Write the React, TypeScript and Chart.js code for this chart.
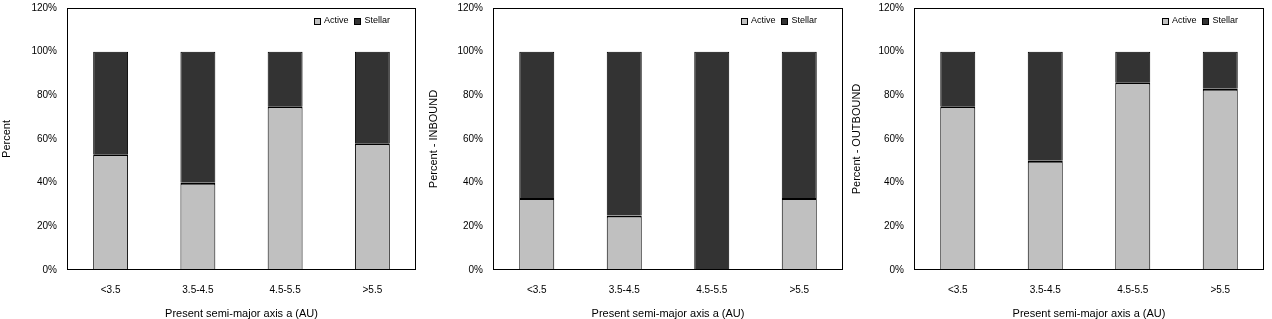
import React, { useEffect, useRef } from "react";
import { Chart, registerables } from "chart.js";

Chart.register(...registerables);

const categories = ["<3.5", "3.5-4.5", "4.5-5.5", ">5.5"];

const allActive = [53, 40, 75, 58];
const allStellar = [47, 60, 25, 42];

const inboundActive = [33, 25, 0, 33];
const inboundStellar = [67, 75, 100, 67];

const outboundActive = [75, 50, 86, 83];
const outboundStellar = [25, 50, 14, 17];

const yTickValues = [0, 20, 40, 60, 80, 100, 120];
const seriesNames = ["Active", "Stellar"];
const xTitle = "Present semi-major axis a (AU)";

const ACTIVE_COLOR = "#C0C0C0";
const STELLAR_COLOR = "#333333";
const FONT = "'Liberation Sans', Arial, sans-serif";

type PanelSpec = {
  left: number;
  width: number;
  yAxisWidth: number;
  padRight: number;
  titlePad: number;
  yTitle: string;
  active: number[];
  stellar: number[];
};

const panels: PanelSpec[] = [
  { left: 0, width: 420, yAxisWidth: 67, padRight: 4, titlePad: 0, yTitle: "Percent", active: allActive, stellar: allStellar },
  { left: 420, width: 430, yAxisWidth: 73, padRight: 7, titlePad: 7, yTitle: "Percent - INBOUND", active: inboundActive, stellar: inboundStellar },
  { left: 850, width: 422, yAxisWidth: 64, padRight: 8, titlePad: 0, yTitle: "Percent - OUTBOUND", active: outboundActive, stellar: outboundStellar },
];

const framePlugin = {
  id: "frameAndLegend",
  afterDatasetsDraw(chart: any) {
    const { ctx, chartArea } = chart;
    ctx.save();
    ctx.strokeStyle = "#000";
    ctx.lineWidth = 1;
    const l = Math.round(chartArea.left) + 0.5;
    const t = Math.round(chartArea.top) + 0.5;
    const r = Math.round(chartArea.right) - 0.5;
    const b = Math.round(chartArea.bottom) - 0.5;
    ctx.strokeRect(l, t, r - l, b - t);

    // legend inside the plot, top-right
    ctx.font = `9px ${FONT}`;
    ctx.textBaseline = "middle";
    ctx.textAlign = "left";
    const box = 6;
    const boxGap = 4;
    const itemGap = 6;
    const ds = chart.data.datasets;
    const widths = ds.map((d: any) => box + boxGap + ctx.measureText(d.label).width);
    const total = widths.reduce((a: number, w: number) => a + w, 0) + itemGap * (ds.length - 1);
    let x = chartArea.right - 26 - total;
    const cy = chartArea.top + 13;
    ds.forEach((d: any, i: number) => {
      const bx = Math.round(x) + 0.5;
      const by = Math.round(cy - box / 2) + 0.5;
      ctx.fillStyle = d.backgroundColor;
      ctx.fillRect(bx, by, box, box);
      ctx.strokeStyle = "#000";
      ctx.strokeRect(bx, by, box, box);
      ctx.fillStyle = "#000";
      ctx.fillText(d.label, x + box + boxGap, cy);
      x += widths[i] + itemGap;
    });
    ctx.restore();
  },
};

function Panel({ spec }: { spec: PanelSpec }) {
  const ref = useRef<HTMLCanvasElement | null>(null);
  useEffect(() => {
    if (!ref.current) return;
    const chart = new Chart(ref.current, {
      type: "bar",
      data: {
        labels: categories,
        datasets: [
          {
            label: seriesNames[0],
            data: spec.active,
            backgroundColor: ACTIVE_COLOR,
            borderColor: "#000",
            borderWidth: { top: 2, left: 1, right: 1, bottom: 0 },
            borderSkipped: "start",
            inflateAmount: 0,
            barPercentage: 0.4,
            categoryPercentage: 1,
          },
          {
            label: seriesNames[1],
            data: spec.stellar,
            backgroundColor: STELLAR_COLOR,
            borderColor: "#000",
            borderWidth: { top: 1, left: 1, right: 1, bottom: 0 },
            borderSkipped: "start",
            inflateAmount: 0,
            barPercentage: 0.4,
            categoryPercentage: 1,
          },
        ],
      },
      options: {
        responsive: false,
        maintainAspectRatio: false,
        animation: false,
        devicePixelRatio: 1,
        layout: { padding: { left: 0, right: spec.padRight, top: 8, bottom: 0 } },
        plugins: { legend: { display: false }, tooltip: { enabled: false } },
        scales: {
          x: {
            stacked: true,
            grid: { display: false, drawTicks: false },
            border: { display: false },
            ticks: { color: "#000", font: { family: FONT, size: 10 }, padding: 14, maxRotation: 0 },
            title: { display: true, text: xTitle, color: "#000", font: { family: FONT, size: 11, lineHeight: 1 }, padding: { top: 0, bottom: 0 } },
            afterFit: (axis: any) => {
              axis.height = 49;
            },
          },
          y: {
            stacked: true,
            min: 0,
            max: 120,
            grid: {
              display: true,
              drawOnChartArea: false,
              drawTicks: true,
              tickLength: 10,
              color: "rgba(0,0,0,0)",
            },
            border: { display: false },
            afterBuildTicks: (axis: any) => {
              axis.ticks = yTickValues.map((v) => ({ value: v }));
            },
            ticks: {
              color: "#000",
              font: { family: FONT, size: 10 },
              padding: 0,
              callback: (v: any) => `${v}%`,
            },
            title: { display: true, text: spec.yTitle, color: "#000", font: { family: FONT, size: 11 }, padding: { top: spec.titlePad, bottom: 0 } },
            afterFit: (axis: any) => {
              axis.width = spec.yAxisWidth;
            },
          },
        },
      },
      plugins: [framePlugin],
    } as any);
    return () => chart.destroy();
  }, [spec]);
  return (
    <canvas
      ref={ref}
      width={spec.width}
      height={319}
      style={{ position: "absolute", left: spec.left, top: 0, width: spec.width, height: 319 }}
    />
  );
}

export default function App() {
  return (
    <div style={{ position: "absolute", left: 0, top: 0, width: 1272, height: 319, background: "#fff", overflow: "hidden" }}>
      {panels.map((p, i) => (
        <Panel key={i} spec={p} />
      ))}
    </div>
  );
}
